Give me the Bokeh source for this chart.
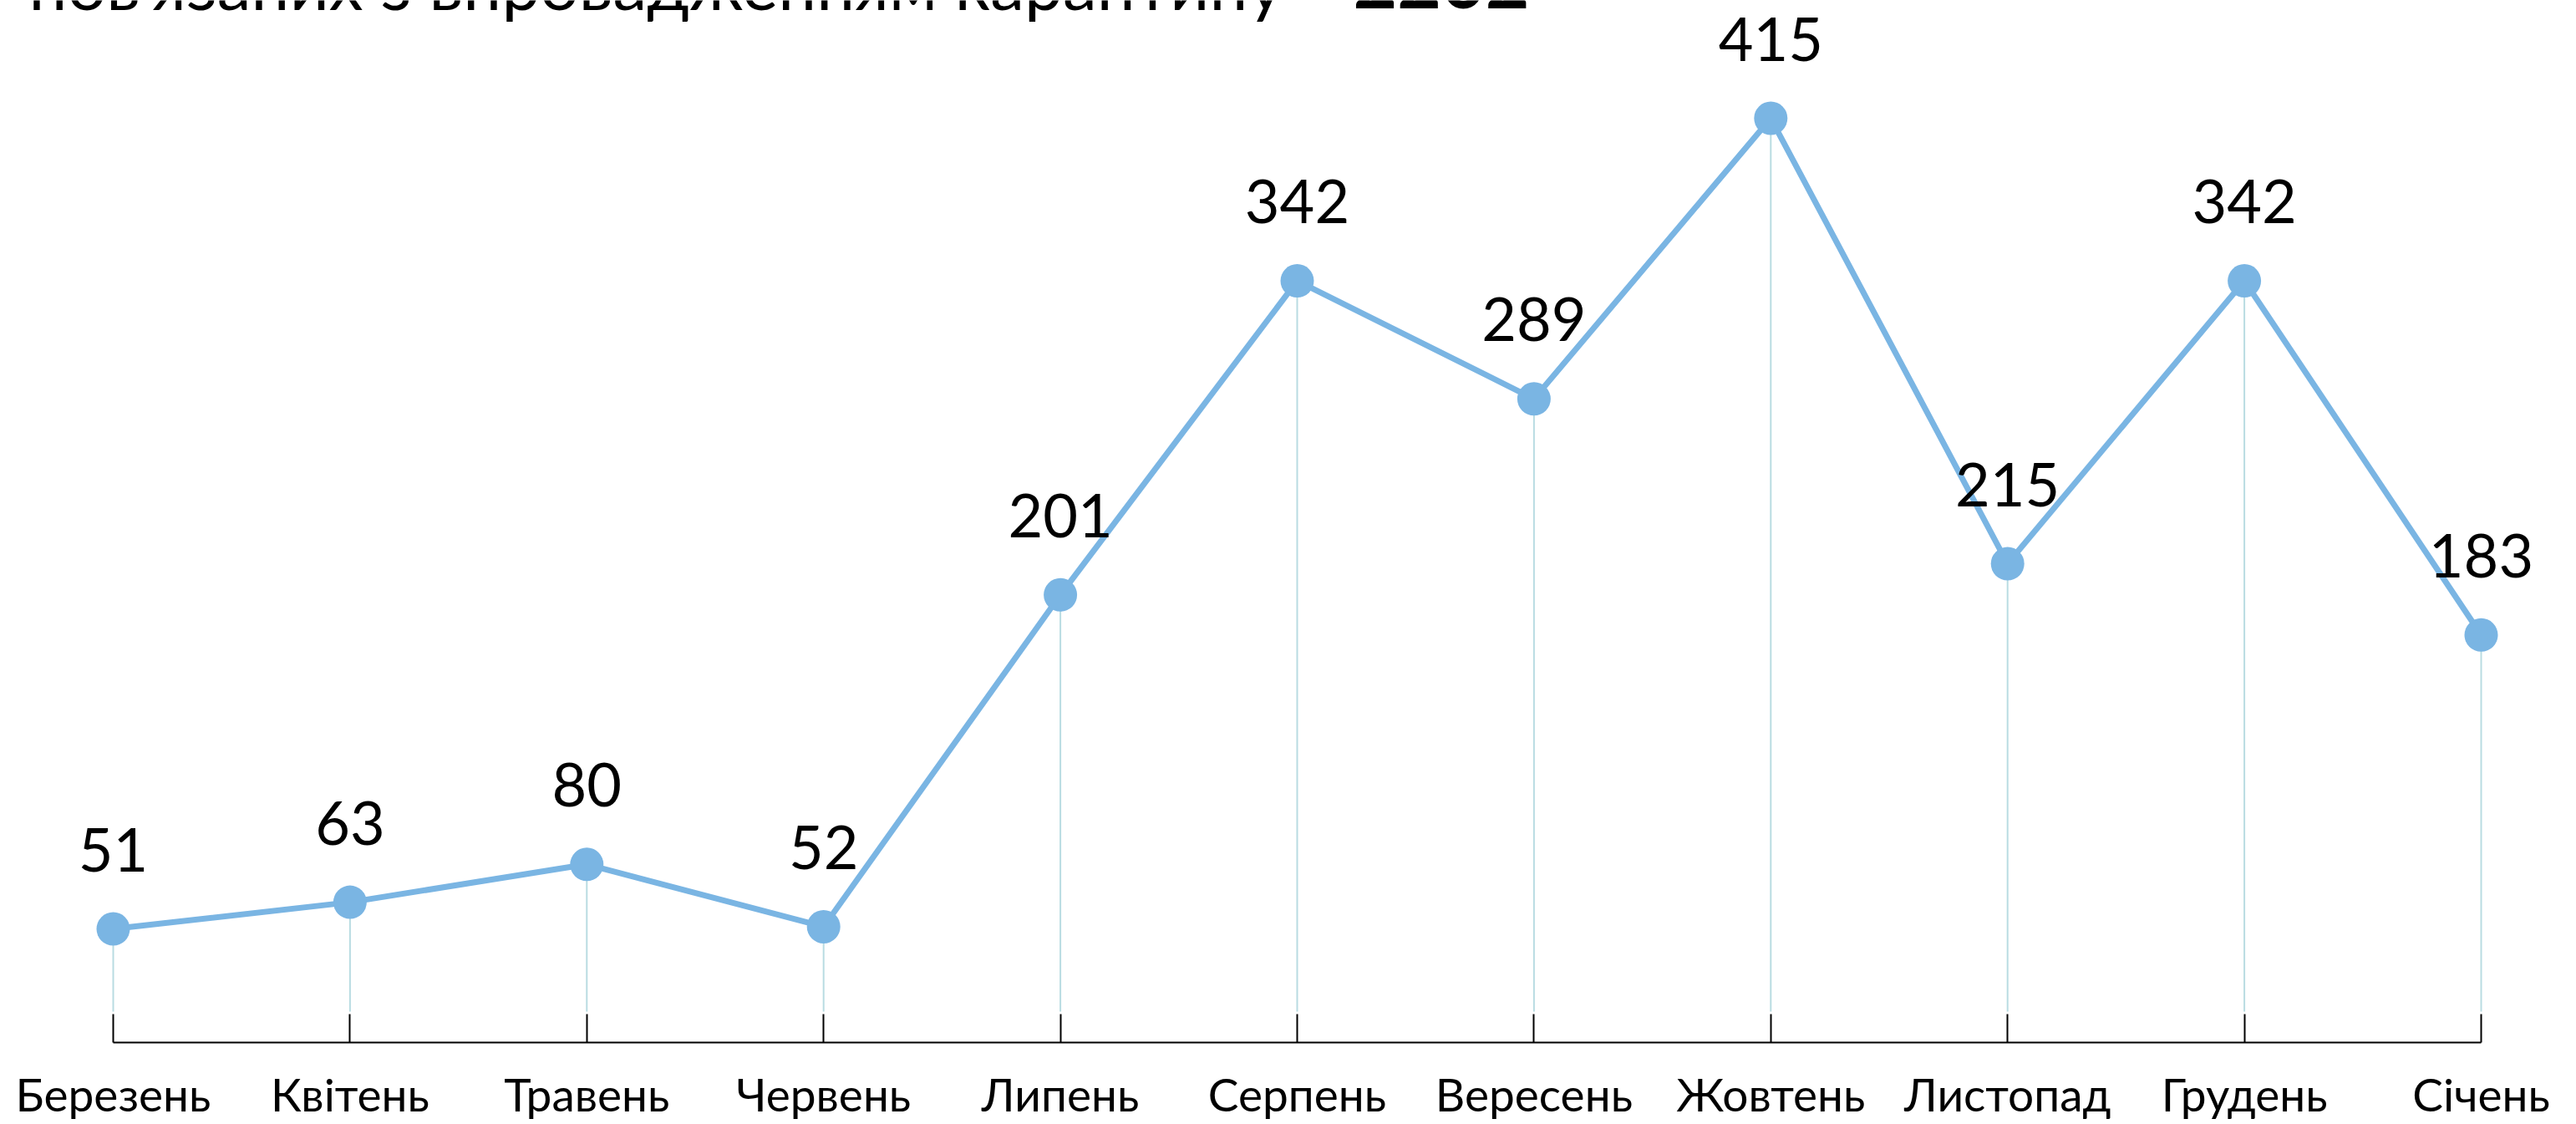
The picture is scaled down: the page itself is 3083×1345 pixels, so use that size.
from bokeh.plotting import figure
from bokeh.models import Range1d, FixedTicker, Label
from bokeh.core.properties import value
from bokeh.embed import file_html
from bokeh.resources import INLINE

# ---- data ----
months = ["Березень", "Квітень", "Травень", "Червень", "Липень", "Серпень",
          "Вересень", "Жовтень", "Листопад", "Грудень", "Січень"]
counts = [51, 63, 80, 52, 201, 342, 289, 415, 215, 342, 183]
title_text = "пов'язаних з впровадженням карантину - "
title_total = "2202"

# ---- layout constants ----
W, H = 3083, 1345
BOTTOM = 98
FONT = "Lato"
LINE_COLOR = "#7AB5E3"
STEM_COLOR = "#B9DCE2"

idx = list(range(len(months)))
frame_h = H - BOTTOM
px_x = 283.4
px_y = 2.665
x_start = -135 / px_x
x_end = x_start + W / px_x
y_start = 0
y_end = frame_h / px_y

p = figure(width=W, height=H, output_backend="svg", toolbar_location=None,
           x_range=Range1d(x_start, x_end), y_range=Range1d(y_start, y_end),
           min_border=0, min_border_bottom=BOTTOM)
p.outline_line_color = None
p.xgrid.visible = False
p.ygrid.visible = False
p.yaxis.visible = False

ax = p.xaxis[0]
ax.ticker = FixedTicker(ticks=idx)
ax.major_label_overrides = {i: m for i, m in zip(idx, months)}
ax.bounds = (idx[0], idx[-1])
ax.axis_line_color = "black"
ax.axis_line_width = 2
ax.major_tick_line_color = "black"
ax.major_tick_line_width = 2
ax.major_tick_in = 34
ax.major_tick_out = 0
ax.minor_tick_line_color = None
ax.major_label_standoff = 28
ax.major_label_text_font = FONT
ax.major_label_text_font_size = "55px"
ax.major_label_text_color = "black"

stem_base = 37 / px_y
p.segment(x0=idx, y0=counts, x1=idx, y1=[stem_base] * len(idx),
          line_color=STEM_COLOR, line_width=2)
p.line(idx, counts, line_color=LINE_COLOR, line_width=7, line_join="round")
p.scatter(idx, counts, size=40, fill_color=LINE_COLOR, line_color=None)
p.text(idx, counts, text=[str(c) for c in counts], y_offset=-95,
       text_align="center", text_baseline="alphabetic",
       text_font=value(FONT), text_font_size="72px", text_color="black")

p.add_layout(Label(x=x_start + 34 / px_x, y=y_end + 21 / px_y, text=title_text,
                   text_font=FONT, text_font_size="82px", text_color="black",
                   text_baseline="alphabetic", text_align="left"))
p.add_layout(Label(x=x_start + 1619 / px_x, y=y_end + 24 / px_y, text=title_total,
                   text_font=FONT, text_font_size="91px", text_font_style="bold",
                   text_color="black", text_baseline="alphabetic", text_align="left"))

open("out.html", "w").write(file_html(p, INLINE))
